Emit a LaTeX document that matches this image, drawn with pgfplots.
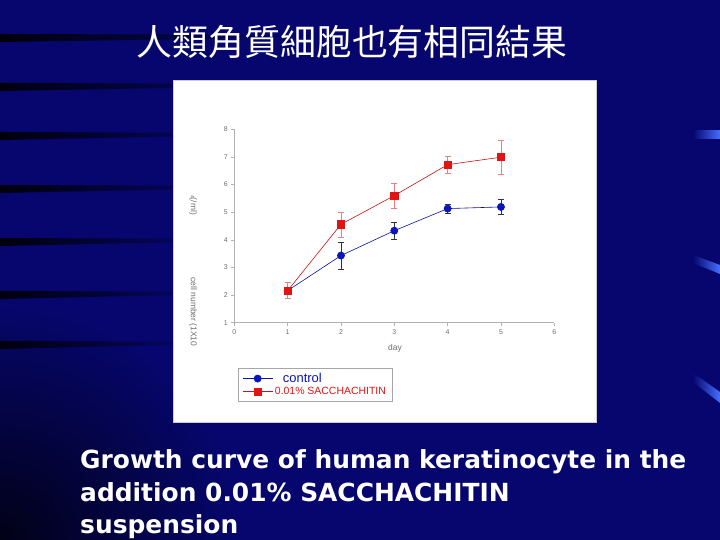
\documentclass[border=0pt]{standalone}
\usepackage{pgfplots}
\pgfplotsset{compat=1.18}
\usepackage{fontspec}
\setmainfont{Liberation Sans}
\newfontfamily\cjk{Noto Sans CJK TC}
\newfontfamily\capfont{DejaVu Sans}

\definecolor{slidebg}{RGB}{6,6,110}
\definecolor{ctrlblue}{RGB}{12,20,190}
\definecolor{sacred}{RGB}{225,20,20}
\definecolor{markblue}{RGB}{70,110,255}
\definecolor{tickgray}{RGB}{110,110,110}

\begin{document}
\begin{tikzpicture}[x=1bp,y=1bp]
\clip (0,0) rectangle (720,540);
% slide background
\fill[slidebg] (0,0) rectangle (720,540);
\shade[inner color=black!80!slidebg, outer color=slidebg] (0,0) circle (240);
% dark streaks on the left
\foreach \yy/\len in {502/330, 453/280, 404/250, 351/240, 298/230, 245/220, 195/210} {
  \shade[left color=black!90!slidebg, right color=slidebg]
    (0,\yy-4) -- (\len,\yy+1) -- (\len,\yy+3) -- (0,\yy+4) -- cycle;
}
% light blue marks on the right
\shade[left color=slidebg, right color=markblue] (693,401) rectangle (720,409);
\shade[left color=slidebg, right color=markblue] (693,285) -- (720,275) -- (720,266) -- (693,277) -- cycle;
\shade[left color=slidebg, right color=markblue] (693,167) -- (720,148) -- (720,137) -- (693,158) -- cycle;

% title
\node[text=white, font=\cjk\fontsize{36}{36}\selectfont] at (352,498) {人類角質細胞也有相同結果};

% white panel
\fill[white] (173,118) rectangle (596,460);
\draw[gray!40, line width=0.8bp] (173,118) rectangle (596,460);

\begin{axis}[
    at={(234.3bp,217.3bp)}, anchor=south west,
    scale only axis, width=320bp, height=193.4bp,
    axis lines=left,
    axis line style={-, draw=gray!60, line width=0.6bp},
    xmin=0, xmax=6, ymin=1, ymax=8,
    xtick={0,...,6}, ytick={1,...,8},
    tick style={draw=gray!60, line width=0.5bp},
    tick align=outside, major tick length=3bp,
    ticklabel style={font=\fontsize{7}{7}\selectfont, text=tickgray},
    /pgf/number format/assume math mode=true,
    xlabel={day},
    xlabel style={at={(axis description cs:0.502,-0.13)}, anchor=center,
                  font=\fontsize{8.5}{8.5}\selectfont, text=tickgray},
    legend style={at={(axis description cs:0.012,-0.234)}, anchor=north west,
                  draw=gray!70, fill=white, inner xsep=4bp, inner ysep=3bp,
                  row sep=-1bp},
    legend cell align=left,
    legend image code/.code={\draw[mark repeat=2,mark phase=2]
        plot coordinates {(0bp,0bp) (15bp,0bp) (30bp,0bp)};},
]
\addplot[ctrlblue!85!black, line width=0.6bp, mark=*, mark size=3.6bp,
         mark options={fill=ctrlblue, draw=ctrlblue},
         error bars/.cd, y dir=both, y explicit,
         error bar style={draw=gray!40!black, line width=0.6bp},
         error mark options={rotate=90, mark size=3bp, draw=gray!40!black}]
coordinates {
    (1,2.16) +- (0,0.08)
    (2,3.43) +- (0,0.50)
    (3,4.33) +- (0,0.30)
    (4,5.13) +- (0,0.15)
    (5,5.19) +- (0,0.28)
};
\addlegendentry{\textcolor{ctrlblue}{\fontsize{13}{13}\selectfont\hspace{8bp}control}}
\addplot[sacred!90!black, line width=0.6bp, mark=square*, mark size=3.6bp,
         mark options={fill=sacred, draw=sacred},
         error bars/.cd, y dir=both, y explicit,
         error bar style={draw=sacred!55, line width=0.6bp},
         error mark options={rotate=90, mark size=3bp, draw=sacred!55}]
coordinates {
    (1,2.16) +- (0,0.29)
    (2,4.56) +- (0,0.45)
    (3,5.60) +- (0,0.45)
    (4,6.72) +- (0,0.30)
    (5,6.99) +- (0,0.60)
};
\addlegendentry{\textcolor{sacred}{\fontsize{10.5}{10.5}\selectfont 0.01\% SACCHACHITIN}}
\end{axis}

% y axis label, drawn broken as in the original
\node[rotate=-90, text=tickgray, font=\fontsize{8.5}{8.5}\selectfont] at (193,335) {{\fontsize{5}{5}\selectfont 4}(/ml)};
\node[rotate=-90, text=tickgray, font=\fontsize{8.5}{8.5}\selectfont] at (193,228) {cell number (1X10};

% caption
\begin{scope}[every node/.style={anchor=base west, text=white, inner sep=0pt,
    font=\capfont\bfseries\fontsize{25}{25}\selectfont}]
\node at (80,71) {Growth curve of human keratinocyte in the};
\node at (80,38) {addition 0.01\% SACCHACHITIN};
\node at (80,6) {suspension};
\end{scope}
\end{tikzpicture}
\end{document}
